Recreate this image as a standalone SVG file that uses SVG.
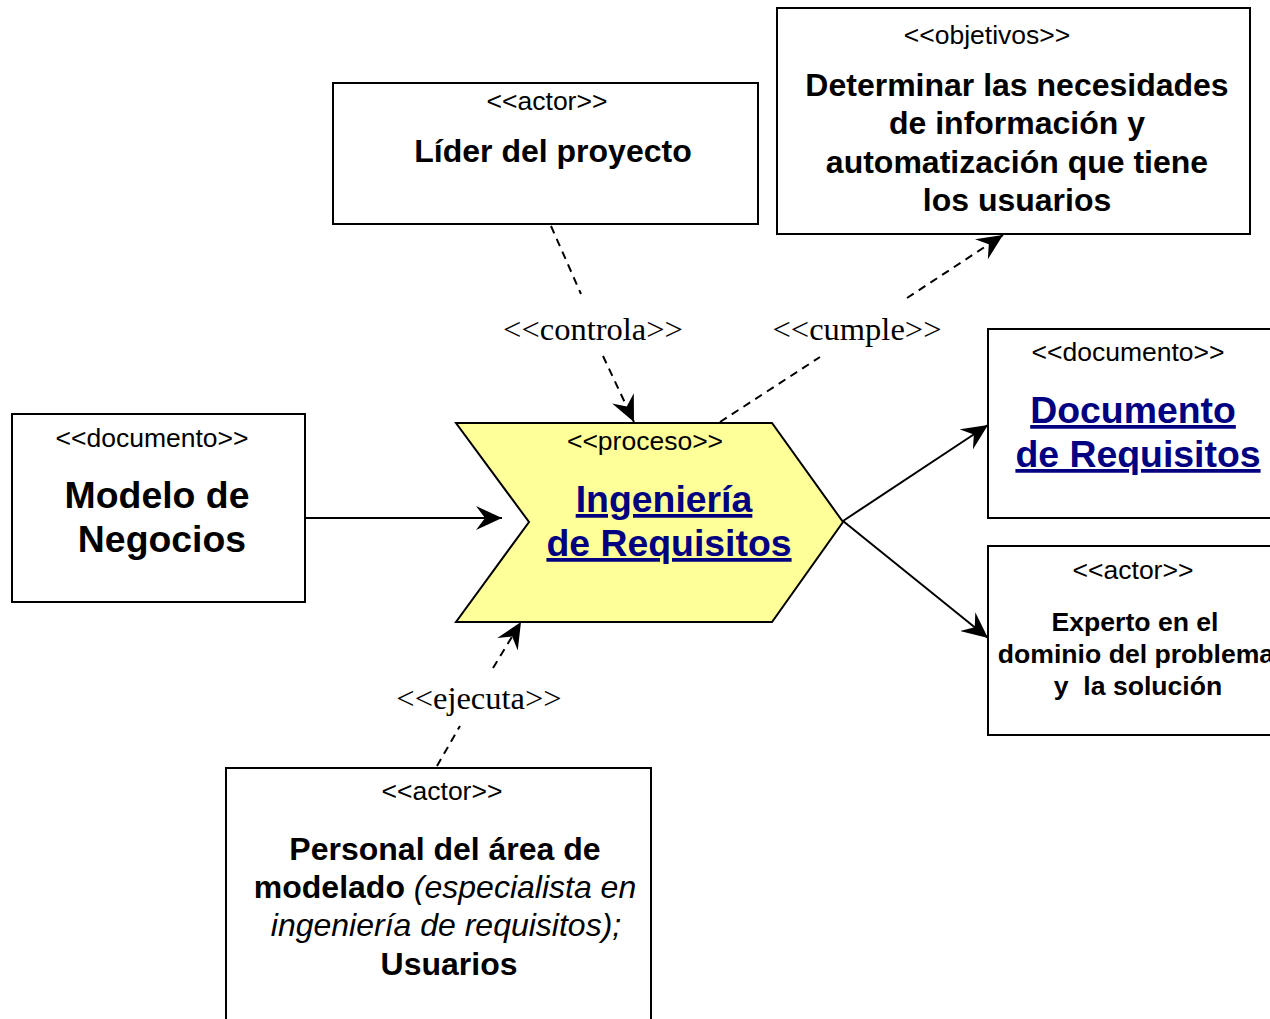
<svg xmlns="http://www.w3.org/2000/svg" width="1270" height="1019" viewBox="0 0 1270 1019">
<style>
.box{fill:#fff;stroke:#000;stroke-width:2}
.st{font-family:"Liberation Sans",Arial,sans-serif;font-size:26.5px;fill:#000;text-anchor:middle}
.b{font-family:"Liberation Sans",Arial,sans-serif;font-weight:bold;fill:#000;text-anchor:middle}
.it{font-weight:normal;font-style:italic}
.lnk{font-family:"Liberation Sans",Arial,sans-serif;font-weight:bold;font-size:37.4px;fill:#000080;text-anchor:middle;text-decoration:underline}
.lbl{font-family:"Liberation Serif","Times New Roman",serif;font-size:32.5px;fill:#000;text-anchor:middle}
.c{stroke:#000;stroke-width:2;fill:none}
.d{stroke-dasharray:8 6}
</style>
<defs>
<marker id="ah" markerUnits="userSpaceOnUse" viewBox="0 0 26 24" refX="26" refY="12" markerWidth="26" markerHeight="24" orient="auto">
<path d="M0,0 L26,12 L0,24 L9,12 Z" fill="#000"/>
</marker>
</defs>
<g id="connectors">
<line class="c" x1="305" y1="518" x2="502" y2="518" marker-end="url(#ah)"/>
<line class="c d" x1="551" y1="226" x2="581" y2="294"/>
<line class="c d" x1="603" y1="356" x2="634" y2="422" marker-end="url(#ah)"/>
<text class="lbl" x="593" y="340">&lt;&lt;controla&gt;&gt;</text>
<line class="c d" x1="720" y1="422" x2="820" y2="357"/>
<line class="c d" x1="907" y1="298" x2="1003" y2="235" marker-end="url(#ah)"/>
<text class="lbl" x="857" y="340">&lt;&lt;cumple&gt;&gt;</text>
<line class="c d" x1="437" y1="766" x2="460" y2="726"/>
<line class="c d" x1="493" y1="668" x2="521" y2="622" marker-end="url(#ah)"/>
<text class="lbl" x="479" y="709">&lt;&lt;ejecuta&gt;&gt;</text>
<line class="c" x1="843" y1="521" x2="988" y2="425" marker-end="url(#ah)"/>
<line class="c" x1="843" y1="521" x2="988" y2="638" marker-end="url(#ah)"/>
</g>
<g id="lider">
<rect class="box" x="333" y="83" width="425" height="141"/>
<text class="st" x="547" y="110">&lt;&lt;actor&gt;&gt;</text>
<text class="b" x="553" y="162" font-size="32">Líder del proyecto</text>
</g>
<g id="objetivos">
<rect class="box" x="777" y="8" width="473" height="226"/>
<text class="st" x="987" y="44">&lt;&lt;objetivos&gt;&gt;</text>
<text class="b" x="1017" font-size="32"><tspan x="1017" y="96">Determinar las necesidades</tspan><tspan x="1017" y="134">de información y</tspan><tspan x="1017" y="173">automatización que tiene</tspan><tspan x="1017" y="211">los usuarios</tspan></text>
</g>
<g id="modelo">
<rect class="box" x="12" y="414" width="293" height="188"/>
<text class="st" x="152" y="447">&lt;&lt;documento&gt;&gt;</text>
<text class="b" font-size="37.4"><tspan x="157" y="508">Modelo de</tspan><tspan x="162" y="552">Negocios</tspan></text>
</g>
<g id="proceso">
<polygon points="456,423 772,423 843,522 772,622 456,622 529,522" fill="#ffff99" stroke="#000" stroke-width="2"/>
<text class="st" x="645" y="450">&lt;&lt;proceso&gt;&gt;</text>
<text class="lnk"><tspan x="664" y="512">Ingeniería</tspan><tspan x="669" y="556">de Requisitos</tspan></text>
</g>
<g id="documento">
<rect class="box" x="988" y="329" width="300" height="189"/>
<text class="st" x="1128" y="361">&lt;&lt;documento&gt;&gt;</text>
<text class="lnk"><tspan x="1133" y="423">Documento</tspan><tspan x="1138" y="467">de Requisitos</tspan></text>
</g>
<g id="experto">
<rect class="box" x="988" y="546" width="300" height="189"/>
<text class="st" x="1133" y="579">&lt;&lt;actor&gt;&gt;</text>
<text class="b" font-size="26.6" xml:space="preserve"><tspan x="1135" y="631">Experto en el</tspan><tspan x="1136" y="663">dominio del problema</tspan><tspan x="1138" y="695">y  la solución</tspan></text>
</g>
<g id="personal">
<rect class="box" x="226" y="768" width="425" height="270"/>
<text class="st" x="442" y="800">&lt;&lt;actor&gt;&gt;</text>
<text class="b" x="445" y="860" font-size="32">Personal del área de</text>
<text class="b" x="445" y="898" font-size="32">modelado<tspan class="it"> (especialista en</tspan></text>
<text class="b" x="446" y="936" font-size="32"><tspan class="it">ingeniería de requisitos);</tspan></text>
<text class="b" x="449" y="975" font-size="32">Usuarios</text>
</g>
</svg>
